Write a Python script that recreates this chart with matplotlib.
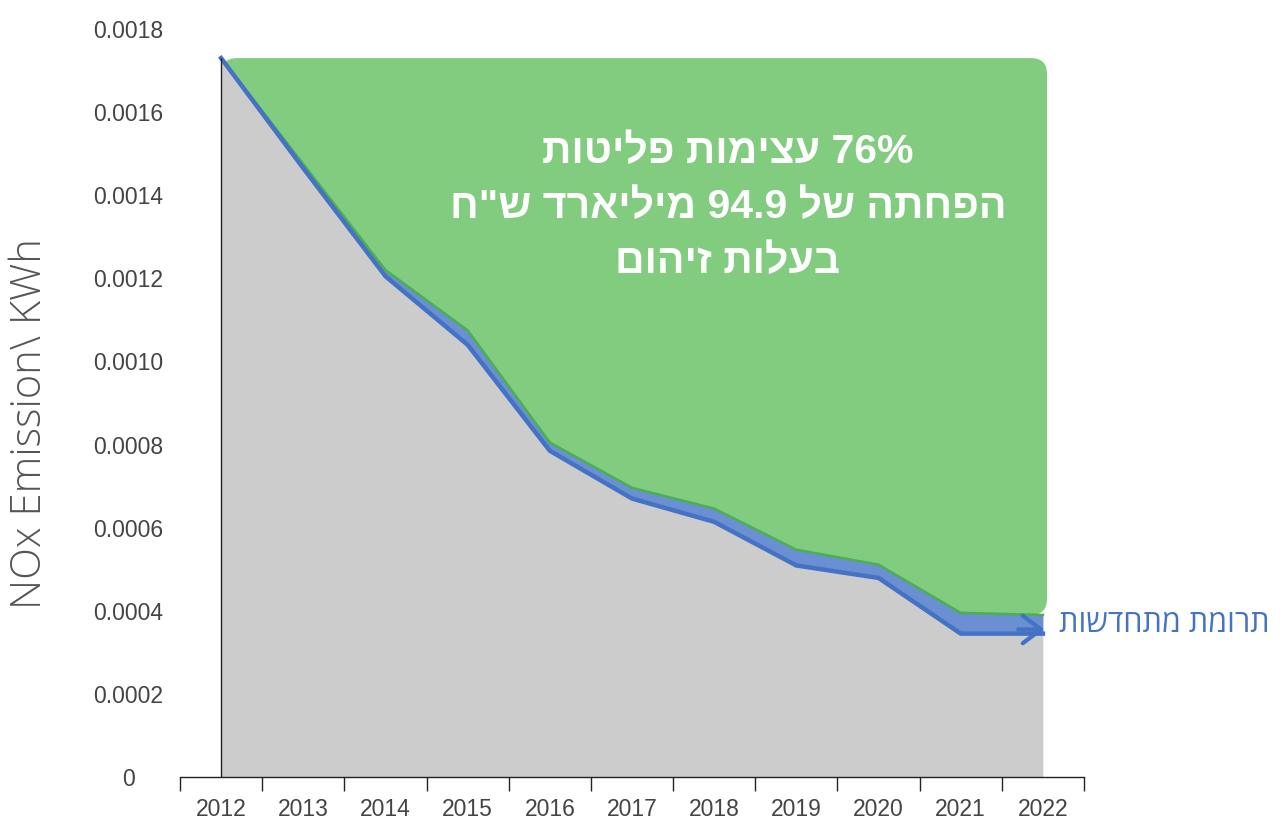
import numpy as np
import matplotlib
matplotlib.use("Agg")
from matplotlib import pyplot as plt
from matplotlib.patches import FancyBboxPatch

years = ["2012", "2013", "2014", "2015", "2016", "2017", "2018", "2019", "2020", "2021", "2022"]
# top of the renewables band (green edge) and top of the grey area
upper = [0.00173, 0.001475, 0.00122, 0.001075, 0.000805, 0.000696, 0.000646, 0.000547, 0.000511, 0.000395, 0.00039]
lower = [0.00173, 0.001465, 0.001205, 0.00104, 0.000785, 0.00067, 0.000614, 0.000509, 0.000479, 0.000345, 0.000345]
y_ticks = [0, 0.0002, 0.0004, 0.0006, 0.0008, 0.0010, 0.0012, 0.0014, 0.0016, 0.0018]

title_lines = ["76% עצימות פליטות", 'הפחתה של 94.9 מיליארד ש"ח', "בעלות זיהום"]
band_label = "תרומת מתחדשות"
y_label = "NOx Emission\\ KWh"

GREEN = "#82CC80"
GREEN_EDGE = "#4CAF50"
GREY = "#CCCCCC"
BLUE = "#4472C4"
BLUE_FILL = "#6A8FD2"

NARROW = ["Liberation Sans Narrow", "Liberation Sans", "DejaVu Sans"]


def visual(s):
    # matplotlib has no bidi: lay the hebrew words out right-to-left by hand
    out = []
    for w in reversed(s.split(" ")):
        if any("\u0590" <= c <= "\u05ff" for c in w):
            out.append(w[::-1])
        else:
            out.append(w)
    return " ".join(out)


W, H = 1280, 819
fig = plt.figure(figsize=(W / 100, H / 100), dpi=100)
ax = fig.add_axes([180 / W, 1 - 777 / H, 904 / W, 748 / H])

x = np.arange(len(years))
ax.set_xlim(-0.5, len(years) - 0.5)
ax.set_ylim(0, 0.0018)

# rounded green block behind everything
bbox = ax.get_position()
px_x = (len(years)) / (bbox.width * W)
px_y = 0.0018 / (bbox.height * H)
green = FancyBboxPatch((x[0], upper[-1]), x[-1] - x[0] + 0.05, upper[0] - upper[-1],
                       boxstyle="round,pad=0,rounding_size=%f" % (16 * px_x),
                       mutation_aspect=px_y / px_x,
                       fc=GREEN, ec="none", zorder=1)
ax.add_patch(green)

ax.fill_between(x, 0, lower, color=GREY, lw=0, zorder=2)
ax.fill_between(x, lower, upper, color=BLUE_FILL, lw=0, zorder=3)
ax.plot(x, upper, color=GREEN_EDGE, lw=1.8, zorder=4, solid_joinstyle="miter")
ax.plot(x, lower, color=BLUE, lw=3.2, zorder=5, solid_joinstyle="miter")
ax.annotate("", xy=(x[-1] + 0.02, lower[-1] + 0.00001), xytext=(x[-1] - 0.3, lower[-1] + 0.00001),
            arrowprops=dict(arrowstyle="->,head_length=0.6,head_width=0.45", color=BLUE, lw=3,
                            mutation_scale=22, shrinkA=0, shrinkB=0), zorder=6)

# y axis line stops at the first point
ax.vlines(x[0], 0, upper[0], color="#222222", lw=1, zorder=6)

for side in ["left", "top", "right"]:
    ax.spines[side].set_visible(False)
ax.spines["bottom"].set_color("#222222")
ax.spines["bottom"].set_linewidth(1)

ax.set_xticks(np.arange(-0.5, len(years), 1))
ax.set_xticklabels([])
ax.set_xticks(x, minor=True)
ax.set_xticklabels(years, minor=True)
ax.tick_params(axis="x", which="major", length=10, width=1, color="#222222")
ax.tick_params(axis="x", which="minor", length=0, pad=15, labelsize=16.5, labelcolor="#444444")

ax.set_yticks(y_ticks)
ax.set_yticklabels(["0" if v == 0 else "%.4f" % v for v in y_ticks])
ax.tick_params(axis="y", length=0, pad=37, labelsize=16.5, labelcolor="#444444")
for lab in ax.get_yticklabels():
    lab.set_horizontalalignment("center")
for lab in ax.get_xticklabels(minor=True) + ax.get_yticklabels():
    lab.set_family(NARROW)

fig.text(30 / W, 1 - 424 / H, y_label, rotation=90, ha="center", va="center",
         fontsize=30, color="#555555", family=["Open Sans", "DejaVu Sans"], weight="light")

for i, line in enumerate(title_lines):
    fig.text(728 / W, 1 - (152 + 55 * i) / H, visual(line), ha="center", va="center",
             fontsize=29.5, color="white", weight="bold", family=NARROW)

ax.text(x[-1] + 0.2, (upper[-1] + lower[-1]) / 2, visual(band_label), ha="left", va="center",
        fontsize=22, color=BLUE, family=["Open Sans", "DejaVu Sans"], clip_on=False)

fig.savefig("out.png", dpi=100)
